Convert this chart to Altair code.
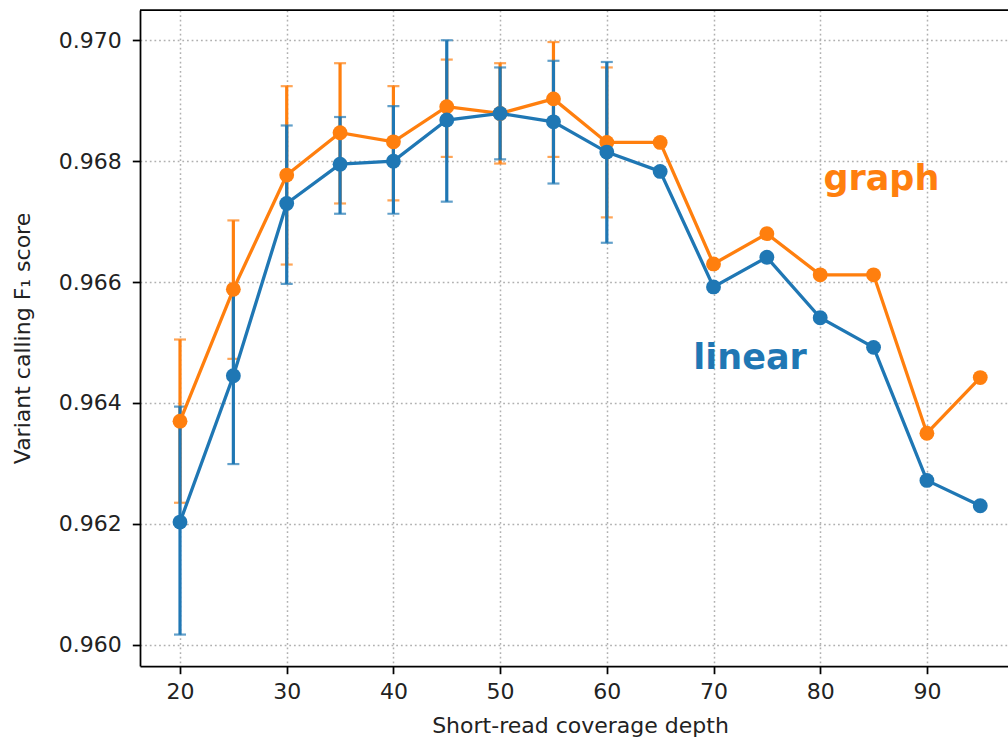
import altair as alt
import pandas as pd

# Coverage depths and mean F1 per aligner
depth = [20, 25, 30, 35, 40, 45, 50, 55, 60, 65, 70, 75, 80, 85, 90, 95]
linear_f1 = [0.96203, 0.96445, 0.96730, 0.96795, 0.96800, 0.96868, 0.96879, 0.96865,
             0.96815, 0.96783, 0.96592, 0.96641, 0.96541, 0.96492, 0.96272, 0.96230]
graph_f1 = [0.96370, 0.96588, 0.96777, 0.96847, 0.96832, 0.96890, 0.96879, 0.96903,
            0.96831, 0.96831, 0.96630, 0.96680, 0.96612, 0.96612, 0.96350, 0.96442]

# Error-bar extents (only the depths that were replicated)
err_depth = [20, 25, 30, 35, 40, 45, 50, 55, 60]
linear_lo = [0.96017, 0.96299, 0.96597, 0.96713, 0.96713, 0.96733, 0.96803, 0.96763, 0.96665]
linear_hi = [0.96394, 0.96591, 0.96859, 0.96873, 0.96891, 0.97000, 0.96955, 0.96966, 0.96964]
graph_lo = [0.96235, 0.96473, 0.96629, 0.96730, 0.96735, 0.96807, 0.96796, 0.96807, 0.96707]
graph_hi = [0.96505, 0.96702, 0.96924, 0.96962, 0.96924, 0.96968, 0.96962, 0.96997, 0.96955]

# Series labels placed inside the plot
label_text = ["graph", "linear"]
label_x = [80.3, 68.1]
label_y = [0.96752, 0.96456]

BLUE = "#1f77b4"
ORANGE = "#ff7f0e"
FONT = "DejaVu Sans"
W, H = 868, 656

lin_df = pd.DataFrame({"depth": depth, "f1": linear_f1})
gra_df = pd.DataFrame({"depth": depth, "f1": graph_f1})
lin_err = pd.DataFrame({"depth": err_depth, "lo": linear_lo, "hi": linear_hi})
gra_err = pd.DataFrame({"depth": err_depth, "lo": graph_lo, "hi": graph_hi})
labels = pd.DataFrame({"x": label_x, "y": label_y, "text": label_text})

x_scale = alt.Scale(domain=[16.25, 97.6], nice=False, zero=False)
y_scale = alt.Scale(domain=[0.95965, 0.9705], nice=False, zero=False)

x_axis = alt.Axis(
    values=[20, 30, 40, 50, 60, 70, 80, 90],
    title="Short-read coverage depth",
    titleX=440, titleY=59, titleBaseline="middle", titleAlign="center",
    labelPadding=8,
)
y_axis = alt.Axis(
    values=[0.960, 0.962, 0.964, 0.966, 0.968, 0.970],
    format=".3f",
    title="Variant calling F\u2081 score",
    titleX=-118, titleY=H / 2, titleBaseline="middle", titleAlign="center",
    titleAngle=-90,
    labelPadding=11,
)


def xenc(field):
    return alt.X(f"{field}:Q", scale=x_scale, axis=x_axis)


def yenc(field):
    return alt.Y(f"{field}:Q", scale=y_scale, axis=y_axis)


def errbars(df, color):
    bar = alt.Chart(df).mark_rule(color=color, strokeWidth=3.2).encode(
        x=xenc("depth"), y=yenc("lo"), y2="hi"
    )
    cap_lo = alt.Chart(df).mark_tick(
        color=color, orient="horizontal", size=12, thickness=2.2
    ).encode(x=xenc("depth"), y=yenc("lo"))
    cap_hi = alt.Chart(df).mark_tick(
        color=color, orient="horizontal", size=12, thickness=2.2
    ).encode(x=xenc("depth"), y=yenc("hi"))
    return [bar, cap_lo, cap_hi]


def series(df, color):
    line = alt.Chart(df).mark_line(color=color, strokeWidth=3.3).encode(
        x=xenc("depth"), y=yenc("f1")
    )
    pts = alt.Chart(df).mark_point(
        color=color, filled=True, size=220, opacity=1
    ).encode(x=xenc("depth"), y=yenc("f1"))
    return [line, pts]


text_layer = alt.Chart(labels).mark_text(
    font=FONT, fontSize=35, fontWeight="bold", align="left", baseline="alphabetic"
).encode(
    x=xenc("x"),
    y=yenc("y"),
    text="text:N",
    color=alt.Color("text:N", scale=alt.Scale(domain=["graph", "linear"],
                                              range=[ORANGE, BLUE]), legend=None),
)

top_spine = alt.Chart(pd.DataFrame({"k": [0]})).mark_rule(
    color="black", strokeWidth=1.75
).encode(x=alt.value(0), x2=alt.value(W), y=alt.value(0))

layers = (
    errbars(gra_err, ORANGE)
    + errbars(lin_err, BLUE)
    + series(gra_df, ORANGE)
    + series(lin_df, BLUE)
    + [text_layer, top_spine]
)

chart = alt.layer(*layers).properties(
    width=W,
    height=H,
    autosize=alt.AutoSizeParams(type="none"),
    padding={"left": 140, "top": 10, "right": 0, "bottom": 76},
).configure_view(
    stroke=None
).configure_axis(
    labelFont=FONT, titleFont=FONT,
    labelFontSize=22, titleFontSize=22,
    labelColor="#222222", titleColor="#222222",
    titleFontWeight="normal",
    domainColor="black", domainWidth=1.75,
    tickColor="black", tickWidth=1.75, tickSize=7.7,
    grid=True, gridColor="#b0b0b0", gridWidth=1.5, gridDash=[1.75, 2.9],
)

chart.save("out.html", embed_options={"renderer": "svg", "actions": False})
